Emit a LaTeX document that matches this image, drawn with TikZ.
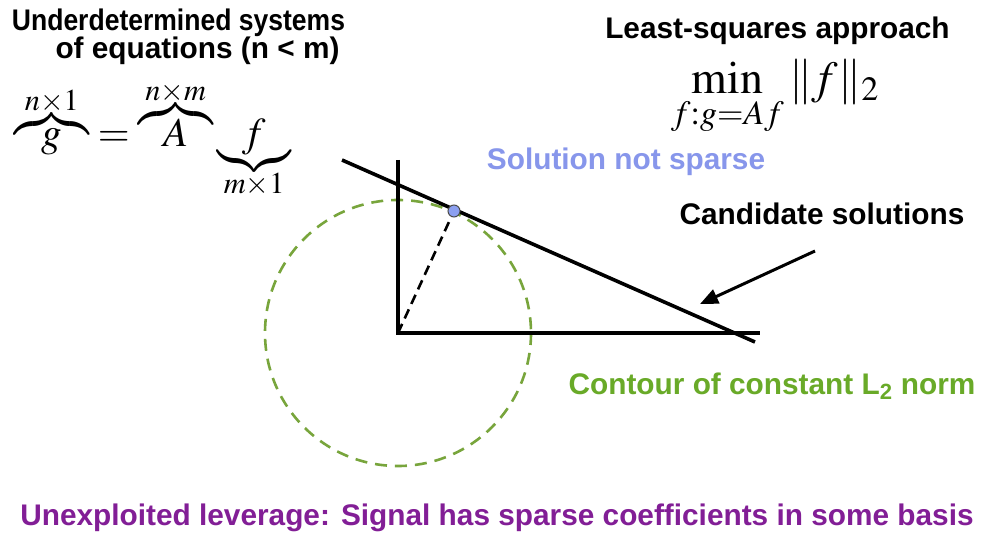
\documentclass[tikz,border=0pt]{standalone}
\usepackage{mathptmx}
\usepackage{fontspec}
\setmainfont{Liberation Sans}
\usetikzlibrary{arrows.meta}
\definecolor{solblue}{RGB}{135,150,235}
\definecolor{contgreen}{RGB}{105,170,40}
\definecolor{circgreen}{RGB}{120,165,60}
\definecolor{levpurple}{RGB}{130,30,150}
\definecolor{dotblue}{RGB}{140,160,240}
\tikzset{
  label/.style={font=\bfseries\fontsize{29.8}{32}\selectfont, inner sep=0pt},
  axisline/.style={line width=3.6pt, line cap=butt},
  mathlabel/.style={inner sep=0pt},
}
\begin{document}
\begin{tikzpicture}[x=1pt,y=-1pt]
\useasboundingbox (0,0) rectangle (982,540);
\fill[white] (0,0) rectangle (982,540);

% texts
\node[label, anchor=base] (title1) at (178.5,31) {\scalebox{0.89}[1]{Underdetermined systems}};
\node[label, anchor=base] (title2) at (197.5,59) {of equations (n < m)};
\node[mathlabel, anchor=base] (eq) at (153,147) {\fontsize{41}{44}\selectfont
  $\overbrace{g}^{n\times 1}=\overbrace{A}^{n\times m}\underbrace{f}_{m\times 1}$};
\node[label, anchor=base] (ls) at (777.5,39) {Least-squares approach};
\node[mathlabel] (minf) at (775,98) {\fontsize{46}{50}\selectfont
  $\displaystyle\min_{f:g=Af}\|f\|_2$};
\node[label, text=solblue] (sns) at (626,162) {Solution not sparse};
\node[label] (cand) at (822,214) {Candidate solutions};
\node[label, text=contgreen] (cont) at (772,386) {Contour of constant L\textsubscript{2} norm};
\node[label, text=levpurple] (lev) at (497,518) {Unexploited leverage: Signal has sparse coefficients in some basis};

% geometry
\coordinate (O) at (398,333);
\coordinate (ytop) at (398,160);
\coordinate (xend) at (760,333);
\coordinate (l1) at (342,160);
\coordinate (l2) at (755,342);
\coordinate (at) at (815,251);
\coordinate (ah) at (700,304);

\draw[circgreen, line width=2.6pt, dash pattern=on 12pt off 8pt] (O) circle[radius=133];
\draw[axisline] (ytop) -- (O) -- (xend);
\draw[line width=3.6pt] (l1) -- (l2);
\node[circle, draw=black!70, fill=dotblue, line width=1pt, minimum size=12pt, inner sep=0pt] (dot) at (454,211) {};
\draw[line width=2.6pt, dash pattern=on 10pt off 6pt] (O) -- (dot);
\draw[line width=3pt, -{Triangle[length=18pt,width=15pt]}] (at) -- (ah);
\end{tikzpicture}
\end{document}
